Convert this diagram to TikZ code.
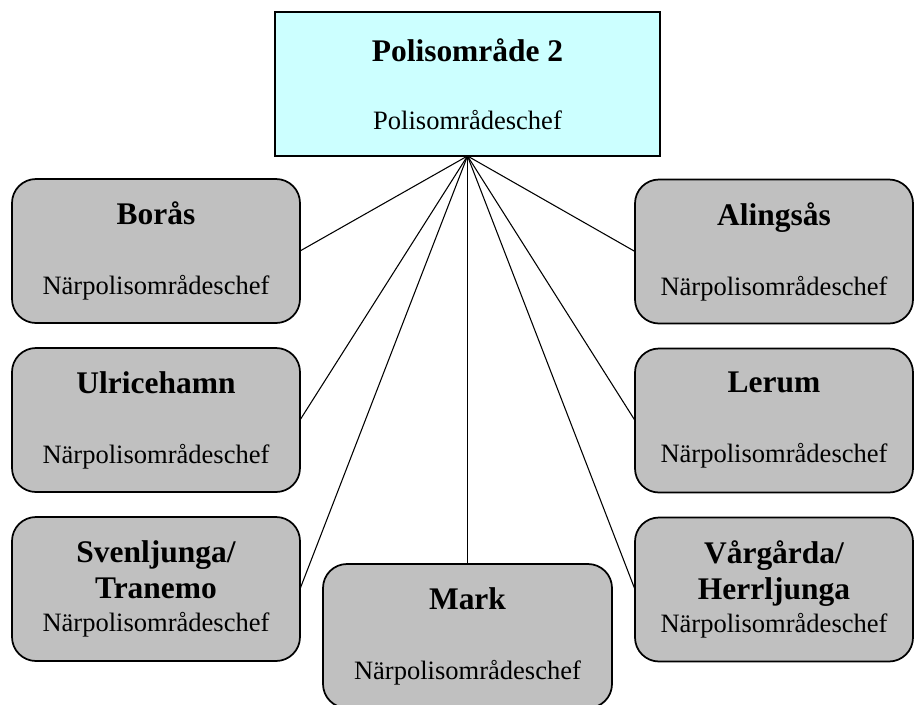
\documentclass[tikz,border=0pt]{standalone}
\usepackage{fontspec}
\setmainfont{Liberation Serif}
\usepackage{tikz}
\usetikzlibrary{positioning}
\definecolor{unitgray}{HTML}{C0C0C0}
\definecolor{chiefcyan}{HTML}{CCFFFF}
\newcommand\subfont{\fontsize{19.9}{24}\selectfont}
\newcommand\bnam[1]{{\fontsize{23.6}{28}\selectfont\bfseries #1}}
\tikzset{
  unit/.style={draw, line width=1.3pt, rounded corners=18pt, fill=unitgray, align=center,
    minimum width=216pt, minimum height=108pt, inner sep=0pt, outer sep=0pt, font=\subfont},
  runit/.style={unit, minimum width=208.5pt},
  chief/.style={unit, sharp corners, fill=chiefcyan, minimum width=288.75pt},
  link/.style={line width=0.8pt},
}
\begin{document}
\begin{tikzpicture}[x=0.75pt, y=-0.75pt, node distance=18.75pt]
\useasboundingbox (0,0) rectangle (914,704);
% top
\node[chief] (po) at (467.5,84) {\bnam{Polisområde 2}\\[27pt]Polisområdeschef};
% left column
\node[unit] (boras) at (156,251) {\bnam{Borås}\\[28.5pt]Närpolisområdeschef};
\node[unit, below=of boras] (ulri) {\bnam{Ulricehamn}\\[28.5pt]Närpolisområdeschef};
\node[unit, below=of ulri] (sven) {\bnam{Svenljunga/}\\[3pt]\bnam{Tranemo}\\[0.75pt]Närpolisområdeschef};
% right column
\node[runit] (aling) at (774,251.5) {\bnam{Alingsås}\\[28.5pt]Närpolisområdeschef};
\node[runit, below=of aling] (lerum) {\bnam{Lerum}\\[28.5pt]Närpolisområdeschef};
\node[runit, below=of lerum] (varg) {\bnam{Vårgårda/}\\[3pt]\bnam{Herrljunga}\\[0.75pt]Närpolisområdeschef};
% bottom
\node[unit, minimum width=216.75pt] (mark) at (467.5,636) {\bnam{Mark}\\[28.5pt]Närpolisområdeschef};
\foreach \n in {boras,ulri,sven}
  \draw[link] (po.south) -- (\n.east);
\foreach \n in {aling,lerum,varg}
  \draw[link] (po.south) -- (\n.west);
\draw[link] (po.south) -- (mark.north);
\end{tikzpicture}
\end{document}
